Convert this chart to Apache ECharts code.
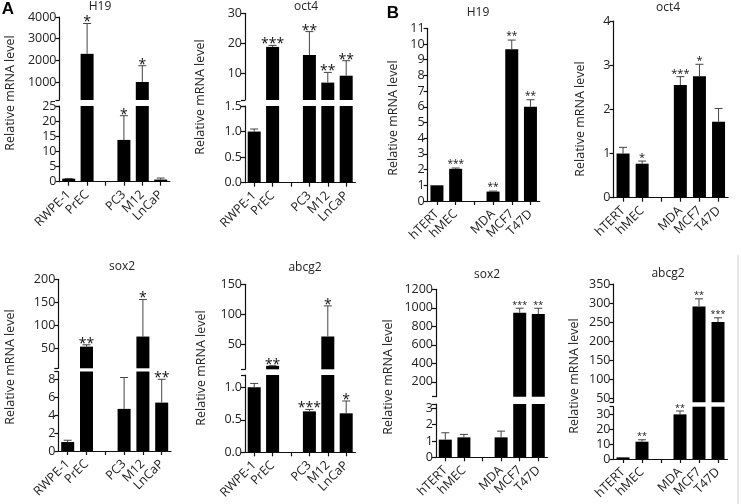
<!DOCTYPE html>
<html><head><meta charset="utf-8">
<script src="https://cdn.jsdelivr.net/npm/echarts@6/dist/echarts.min.js"></script>
<style>html,body{margin:0;padding:0;background:#fff}#c{width:741px;height:504px}</style>
</head><body><div id="c"></div>
<script>
// ---------- data ----------
const catsA = ['RWPE-1', 'PrEC', '', 'PC3', 'M12', 'LnCaP'];
const catsB = ['hTERT', 'hMEC', '', 'MDA', 'MCF7', 'T47D'];

const h19A      = [1.0, 2300, null, 13.8, 1000, 0.7];
const h19AErr   = [1.05, 3700, null, 21.8, 1750, 1.2];
const h19AStars = ['', '*', '', '*', '*', ''];

const oct4A      = [1.0, 18.8, null, 16.1, 6.9, 9.2];
const oct4AErr   = [1.05, 19.3, null, 23.9, 10.3, 14.2];
const oct4AStars = ['', '***', '', '**', '**', '**'];

const sox2A      = [1.0, 53, null, 4.7, 75, 5.4];
const sox2AErr   = [1.2, 57, null, 8.2, 156, 8.0];
const sox2AStars = ['', '**', '', '', '*', '**'];

const abcg2A      = [1.0, 14, null, 0.63, 63, 0.6];
const abcg2AErr   = [1.06, 14.3, null, 0.66, 114, 0.79];
const abcg2AStars = ['', '**', '', '***', '*', '*'];

const h19B      = [1.0, 2.05, null, 0.6, 9.66, 6.0];
const h19BErr   = [null, 2.1, null, 0.63, 10.25, 6.45];
const h19BStars = ['', '***', '', '**', '**', '**'];

const oct4B      = [1.0, 0.77, null, 2.55, 2.75, 1.72];
const oct4BErr   = [1.14, 0.83, null, 2.74, 3.02, 2.02];
const oct4BStars = ['', '*', '', '***', '*', ''];

const sox2B      = [1.08, 1.22, null, 1.22, 946, 932];
const sox2BErr   = [1.5, 1.4, null, 1.6, 995, 995];
const sox2BStars = ['', '', '', '', '***', '**'];

const abcg2B      = [1.1, 11.7, null, 30.2, 291, 250];
const abcg2BErr   = [null, 13.0, null, 32.5, 311, 261];
const abcg2BStars = ['', '**', '', '**', '**', '***'];

// axis ranges [lowerMin, lowerMax, upperMin, upperMax] and tick labels
const h19ARange = [0, 25, 169, 4000];   const h19ALowTicks = [0, 5, 10, 15, 20, 25];   const h19AUpTicks = [1000, 2000, 3000, 4000];
const oct4ARange = [0, 1.5, 1.1, 30];   const oct4ALowTicks = [0, 0.5, 1.0, 1.5];      const oct4AUpTicks = [10, 20, 30];
const sox2ARange = [0, 8.87, 5.7, 200]; const sox2ALowTicks = [0, 2, 4, 6, 8];         const sox2AUpTicks = [50, 100, 150, 200];
const abcg2ARange = [0, 1.19, 8.3, 150];const abcg2ALowTicks = [0, 0.5, 1.0];          const abcg2AUpTicks = [50, 100, 150];
const h19BRange = [0, 11];              const h19BTicks = [0,1,2,3,4,5,6,7,8,9,10,11];
const oct4BRange = [0, 4];              const oct4BTicks = [0, 1, 2, 3, 4];
const sox2BRange = [0, 3.26, 39, 1200]; const sox2BLowTicks = [0, 1, 2, 3];            const sox2BUpTicks = [200, 400, 600, 800, 1000, 1200];
const abcg2BRange = [0, 35.4, 38.7, 350]; const abcg2BLowTicks = [0, 10, 20, 30];      const abcg2BUpTicks = [50, 100, 150, 200, 250, 300, 350];

// ---------- panels ----------
const panels = [
  {title:'H19',  cats:catsA, v:h19A,  e:h19AErr,  s:h19AStars,  r:h19ARange,  lt:h19ALowTicks,  ut:h19AUpTicks, dec:0},
  {title:'oct4', cats:catsA, v:oct4A, e:oct4AErr, s:oct4AStars, r:oct4ARange, lt:oct4ALowTicks, ut:oct4AUpTicks, dec:1},
  {title:'H19',  cats:catsB, v:h19B,  e:h19BErr,  s:h19BStars,  r:h19BRange,  lt:h19BTicks, dec:0},
  {title:'oct4', cats:catsB, v:oct4B, e:oct4BErr, s:oct4BStars, r:oct4BRange, lt:oct4BTicks, dec:0},
  {title:'sox2', cats:catsA, v:sox2A, e:sox2AErr, s:sox2AStars, r:sox2ARange, lt:sox2ALowTicks, ut:sox2AUpTicks, dec:0},
  {title:'abcg2',cats:catsA, v:abcg2A,e:abcg2AErr,s:abcg2AStars,r:abcg2ARange,lt:abcg2ALowTicks,ut:abcg2AUpTicks, dec:1},
  {title:'sox2', cats:catsB, v:sox2B, e:sox2BErr, s:sox2BStars, r:sox2BRange, lt:sox2BLowTicks, ut:sox2BUpTicks, dec:0},
  {title:'abcg2',cats:catsB, v:abcg2B,e:abcg2BErr,s:abcg2BStars,r:abcg2BRange,lt:abcg2BLowTicks,ut:abcg2BUpTicks, dec:0}
];
// layout: x-axis left/width, upper grid top/bottom, lower grid top/bottom, title & name positions
const layout = [
  {l:59.5, w:110.4, ut:17,    ub:100,   lt:106,   lb:181.7, tx:100, ty:7,   tf:12, nx:10,  ny:93,  sf:14, so:1},
  {l:245,  w:110.4, ut:13.3,  ub:100,   lt:106,   lb:182.7, tx:306, ty:7,   tf:12, nx:200, ny:97,  sf:14, so:1},
  {l:427.6,w:112.2, lt:28.3,  lb:201,   tx:478, ty:13,  tf:12, nx:393, ny:118, sf:10, so:4},
  {l:613.5,w:114.6, lt:21,    lb:197.7, tx:668, ty:8,   tf:12, nx:580, ny:119, sf:11, so:3},
  {l:58.3, w:112.8, ut:279.3, ub:368.3, lt:371.5, lb:451,   tx:122, ty:267, tf:12, nx:10,  ny:367, sf:14, so:1},
  {l:245,  w:110.4, ut:284.3, ub:369.3, lt:375,   lb:452.3, tx:305, ty:268, tf:12, nx:201, ny:368, sf:14, so:1},
  {l:436,  w:111.6, ut:289.3, ub:396.7, lt:404,   lb:457.3, tx:487, ty:275, tf:12, nx:388, ny:377, sf:9,  so:3},
  {l:613.5,w:114,   ut:284,   ub:402.3, lt:406.7, lb:459,   tx:668, ty:274, tf:12, nx:574, ny:376, sf:9,  so:3}
];

const FONT = 'Open Sans';
const AX = '#111';
const grid = [], xAxis = [], yAxis = [], series = [], graphic = [];

function yAx(gi, min, max, ticks, extraTicks, dec) {
  return {
    gridIndex: gi, type: 'value', min: min, max: max,
    axisLine: {show: true, lineStyle: {color: AX, width: 1.2}},
    axisTick: {show: true, length: 4, lineStyle: {color: AX, width: 1.2}, customValues: ticks.concat(extraTicks)},
    axisLabel: {customValues: ticks, fontFamily: FONT, fontSize: 12.5, color: '#222', margin: 3,
      formatter: v => dec ? Number(v).toFixed(dec) : String(v)},
    splitLine: {show: false}
  };
}
function xAx(gi, cats, show) {
  return {
    gridIndex: gi, type: 'category', data: cats, show: show,
    axisLine: {show: true, lineStyle: {color: AX, width: 1.2}},
    axisTick: {show: true, alignWithLabel: true, length: 4, lineStyle: {color: AX, width: 1.2}},
    axisLabel: {interval: 0, rotate: 45, fontFamily: FONT, fontSize: 12.5, color: '#222', margin: 11}
  };
}
function errSeries(gi, p, L, idxs, clampMin) {
  return {
    type: 'custom', xAxisIndex: gi, yAxisIndex: gi, z: 5,
    data: idxs.map(i => [i, p.v[i], p.e[i]]),
    renderItem: (params, api) => {
      const i = api.value(0), v = Math.max(api.value(1), clampMin), e = api.value(2);
      const t = api.coord([i, e]), b = api.coord([i, v]);
      const star = p.s[i];
      const ch = [
        {type: 'line', shape: {x1: t[0], y1: b[1], x2: t[0], y2: t[1]}, style: {stroke: '#444', lineWidth: 1}},
        {type: 'line', shape: {x1: t[0] - 4, y1: t[1], x2: t[0] + 4, y2: t[1]}, style: {stroke: '#444', lineWidth: 1}}
      ];
      if (star) ch.push({type: 'text', x: t[0], y: t[1] - L.so,
        style: {text: star, fontSize: L.sf, fontFamily: FONT, fill: '#111', align: 'center', verticalAlign: 'middle'}});
      return {type: 'group', children: ch};
    }
  };
}

panels.forEach((p, k) => {
  const L = layout[k];
  const broken = p.r.length === 4;
  const lowMax = p.r[1];
  // lower grid (with x-axis)
  let gi = grid.length;
  grid.push({left: L.l, top: L.lt, width: L.w, height: L.lb - L.lt});
  xAxis.push(xAx(gi, p.cats, true));
  yAxis.push(yAx(gi, p.r[0], lowMax, p.lt, broken ? [lowMax] : [], p.dec));
  series.push({type: 'bar', xAxisIndex: gi, yAxisIndex: gi, barWidth: 13, clip: true,
    itemStyle: {color: '#000'}, data: p.v.map(v => v == null ? '-' : v)});
  const lowIdx = [], upIdx = [];
  p.e.forEach((e, i) => { if (e == null) return; if (broken && e > lowMax) upIdx.push(i); else lowIdx.push(i); });
  series.push(errSeries(gi, p, L, lowIdx, -Infinity));
  if (broken) {
    const gu = grid.length;
    grid.push({left: L.l, top: L.ut, width: L.w, height: L.ub - L.ut});
    xAxis.push(xAx(gu, p.cats, false));
    yAxis.push(yAx(gu, p.r[2], p.r[3], p.ut, [p.r[2]], 0));
    series.push({type: 'bar', xAxisIndex: gu, yAxisIndex: gu, barWidth: 13, clip: true,
      itemStyle: {color: '#000'}, data: p.v.map(v => (v == null || v <= p.r[2]) ? '-' : v)});
    series.push(errSeries(gu, p, L, upIdx, p.r[2]));
  }
  graphic.push({type: 'text', x: L.tx, y: L.ty,
    style: {text: p.title, fontFamily: FONT, fontSize: L.tf, fill: '#222', align: 'center', verticalAlign: 'middle'}});
  graphic.push({type: 'text', x: L.nx, y: L.ny, rotation: Math.PI / 2,
    style: {text: 'Relative mRNA level', fontFamily: FONT, fontSize: 12.5, fill: '#222', align: 'center', verticalAlign: 'middle'}});
});
graphic.push({type: 'text', x: 8, y: 9, style: {text: 'A', fontFamily: 'Liberation Sans', fontWeight: 'bold', fontSize: 17, fill: '#000', align: 'center', verticalAlign: 'middle'}});
graphic.push({type: 'text', x: 393, y: 13, style: {text: 'B', fontFamily: 'Liberation Sans', fontWeight: 'bold', fontSize: 17, fill: '#000', align: 'center', verticalAlign: 'middle'}});
graphic.push({type: 'line', shape: {x1: 738, y1: 255, x2: 738, y2: 504}, style: {stroke: '#ccc', lineWidth: 1}});

const chart = echarts.init(document.getElementById('c'), null, {renderer: 'canvas'});
chart.setOption({animation: false, backgroundColor: '#fff', grid, xAxis, yAxis, series, graphic});
</script></body></html>
